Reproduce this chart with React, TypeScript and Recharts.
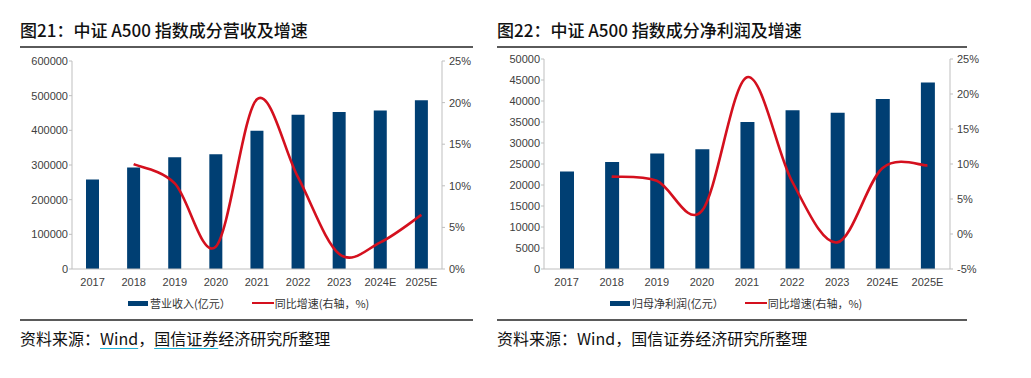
import {
  ComposedChart,
  Bar,
  Line,
  XAxis,
  YAxis,
  Legend,
} from "recharts";

const years = ["2017", "2018", "2019", "2020", "2021", "2022", "2023", "2024E", "2025E"];

// 图21 营收
const revenue = [258000, 293000, 322000, 331000, 399000, 445000, 453000, 457000, 487000];
const revenueGrowth = [null, 12.6, 10.3, 2.7, 20.4, 11.0, 1.8, 3.2, 6.5];
const revenueTicks = [0, 100000, 200000, 300000, 400000, 500000, 600000];
const revenueGrowthTicks = [0, 5, 10, 15, 20, 25];

// 图22 净利润
const profit = [23200, 25500, 27500, 28500, 35000, 37800, 37200, 40500, 44400];
const profitGrowth = [null, 8.2, 7.6, 3.3, 22.4, 7.5, -1.2, 9.4, 9.8];
const profitTicks = [0, 5000, 10000, 15000, 20000, 25000, 30000, 35000, 40000, 45000, 50000];
const profitGrowthTicks = [-5, 0, 5, 10, 15, 20, 25];

const NAVY = "#003f73";
const RED = "#d4101e";
const AXIS = "#bfbfbf";
const TICK = { fontSize: 11, fill: "#404040", fontFamily: "Liberation Sans, Arial, sans-serif" };
const CJK = '"Noto Sans CJK SC", "Noto Sans", sans-serif';

// excel-like smoothed line (catmull-rom through the points)
const excelSmooth = (context: any) => {
  let pts: number[][] = [];
  return {
    areaStart() {},
    areaEnd() {},
    lineStart() {
      pts = [];
    },
    point(x: number, y: number) {
      pts.push([+x, +y]);
    },
    lineEnd() {
      if (!pts.length) return;
      context.moveTo(pts[0][0], pts[0][1]);
      for (let i = 0; i < pts.length - 1; i++) {
        const p0 = pts[Math.max(i - 1, 0)];
        const p1 = pts[i];
        const p2 = pts[i + 1];
        const p3 = pts[Math.min(i + 2, pts.length - 1)];
        context.bezierCurveTo(
          p1[0] + (p2[0] - p0[0]) / 6,
          p1[1] + (p2[1] - p0[1]) / 6,
          p2[0] - (p3[0] - p1[0]) / 6,
          p2[1] - (p3[1] - p1[1]) / 6,
          p2[0],
          p2[1]
        );
      }
    },
  };
};

function LegendBox({ barName, lineName }: { barName: string; lineName: string }) {
  return (
    <div
      style={{
        display: "flex",
        alignItems: "center",
        fontSize: 11,
        color: "#333",
        whiteSpace: "nowrap",
        fontFamily: CJK,
        lineHeight: "14px",
      }}
    >
      <span style={{ display: "inline-block", width: 20, height: 5, background: NAVY, marginRight: 2 }} />
      <span>{barName}</span>
      <span
        style={{ display: "inline-block", width: 22, height: 2.5, background: RED, marginLeft: 21, marginRight: 1 }}
      />
      <span>{lineName}</span>
    </div>
  );
}

type PanelProps = {
  values: number[];
  growth: (number | null)[];
  ticks: number[];
  growthTicks: number[];
  barName: string;
  width: number;
  leftWidth: number;
  marginTop: number;
  marginRight: number;
  barSize: number;
  legendLeft: number;
};

function Panel(p: PanelProps) {
  const data = years.map((y, i) => ({ name: y, value: p.values[i], growth: p.growth[i] }));
  const gMin = p.growthTicks[0];
  const gMax = p.growthTicks[p.growthTicks.length - 1];
  return (
    <ComposedChart
      width={p.width}
      height={270}
      data={data}
      margin={{ top: p.marginTop, right: p.marginRight, bottom: 27, left: 0 }}
    >
      <XAxis
        dataKey="name"
        tick={TICK}
        tickLine={false}
        tickSize={5}
        tickMargin={4}
        height={24}
        stroke={AXIS}
        interval={0}
      />
      <YAxis
        yAxisId="left"
        domain={[p.ticks[0], p.ticks[p.ticks.length - 1]]}
        ticks={p.ticks}
        tick={TICK}
        tickSize={3}
        tickMargin={1}
        width={p.leftWidth}
        stroke={AXIS}
        interval={0}
      />
      <YAxis
        yAxisId="right"
        orientation="right"
        domain={[gMin, gMax]}
        ticks={p.growthTicks}
        tickFormatter={(v: number) => `${v}%`}
        tick={TICK}
        tickSize={3}
        tickMargin={4}
        width={40}
        stroke={AXIS}
        interval={0}
      />
      <Legend
        verticalAlign="middle"
        layout="horizontal"
        wrapperStyle={{ top: 246, left: p.legendLeft, width: "auto" }}
        content={() => <LegendBox barName={p.barName} lineName="同比增速(右轴，%)" />}
      />
      <Bar yAxisId="left" dataKey="value" name={p.barName} fill={NAVY} barSize={p.barSize} isAnimationActive={false} />
      <Line
        yAxisId="right"
        dataKey="growth"
        name="同比增速(右轴，%)"
        type={excelSmooth as any}
        stroke={RED}
        strokeWidth={2.6}
        dot={false}
        activeDot={false}
        isAnimationActive={false}
      />
    </ComposedChart>
  );
}

const titleStyle: React.CSSProperties = {
  position: "absolute",
  top: 19,
  fontSize: 17,
  fontWeight: 500,
  color: "#111",
  fontFamily: CJK,
  lineHeight: "22px",
  whiteSpace: "nowrap",
};

const sourceStyle: React.CSSProperties = {
  position: "absolute",
  top: 327,
  fontSize: 16,
  color: "#111",
  fontFamily: CJK,
  lineHeight: "22px",
  whiteSpace: "nowrap",
};

const rule = (left: number, top: number, width: number): React.CSSProperties => ({
  position: "absolute",
  left,
  top,
  width,
  height: 1.5,
  background: "#5a5a5a",
});

const squiggle: React.CSSProperties = {
  textDecoration: "underline",
  textDecorationColor: "#1fb0d0",
  textUnderlineOffset: 3,
};

export default function App() {
  return (
    <div
      style={{
        position: "absolute",
        left: 0,
        top: 0,
        width: 1031,
        height: 378,
        background: "#fff",
        overflow: "hidden",
      }}
    >
      <div style={{ ...titleStyle, left: 20 }}>图21：中证 A500 指数成分营收及增速</div>
      <div style={{ ...titleStyle, left: 497 }}>图22：中证 A500 指数成分净利润及增速</div>
      <div style={rule(20, 46, 453)} />
      <div style={rule(497, 46, 470)} />

      <div style={{ position: "absolute", left: 0, top: 50 }}>
        <Panel
          values={revenue}
          growth={revenueGrowth}
          ticks={revenueTicks}
          growthTicks={revenueGrowthTicks}
          barName="营业收入(亿元）"
          width={490}
          leftWidth={72}
          marginTop={11}
          marginRight={8}
          barSize={13}
          legendLeft={128}
        />
      </div>
      <div style={{ position: "absolute", left: 490, top: 50 }}>
        <Panel
          values={profit}
          growth={profitGrowth}
          ticks={profitTicks}
          growthTicks={profitGrowthTicks}
          barName="归母净利润(亿元）"
          width={510}
          leftWidth={54}
          marginTop={9}
          marginRight={10}
          barSize={14}
          legendLeft={120}
        />
      </div>

      <div style={rule(20, 319, 453)} />
      <div style={rule(497, 319, 470)} />
      <div style={{ ...sourceStyle, left: 20 }}>
        资料来源：<span style={squiggle}>Wind</span>，<span style={squiggle}>国信证券</span>经济研究所整理
      </div>
      <div style={{ ...sourceStyle, left: 497 }}>资料来源：Wind，国信证券经济研究所整理</div>
    </div>
  );
}
